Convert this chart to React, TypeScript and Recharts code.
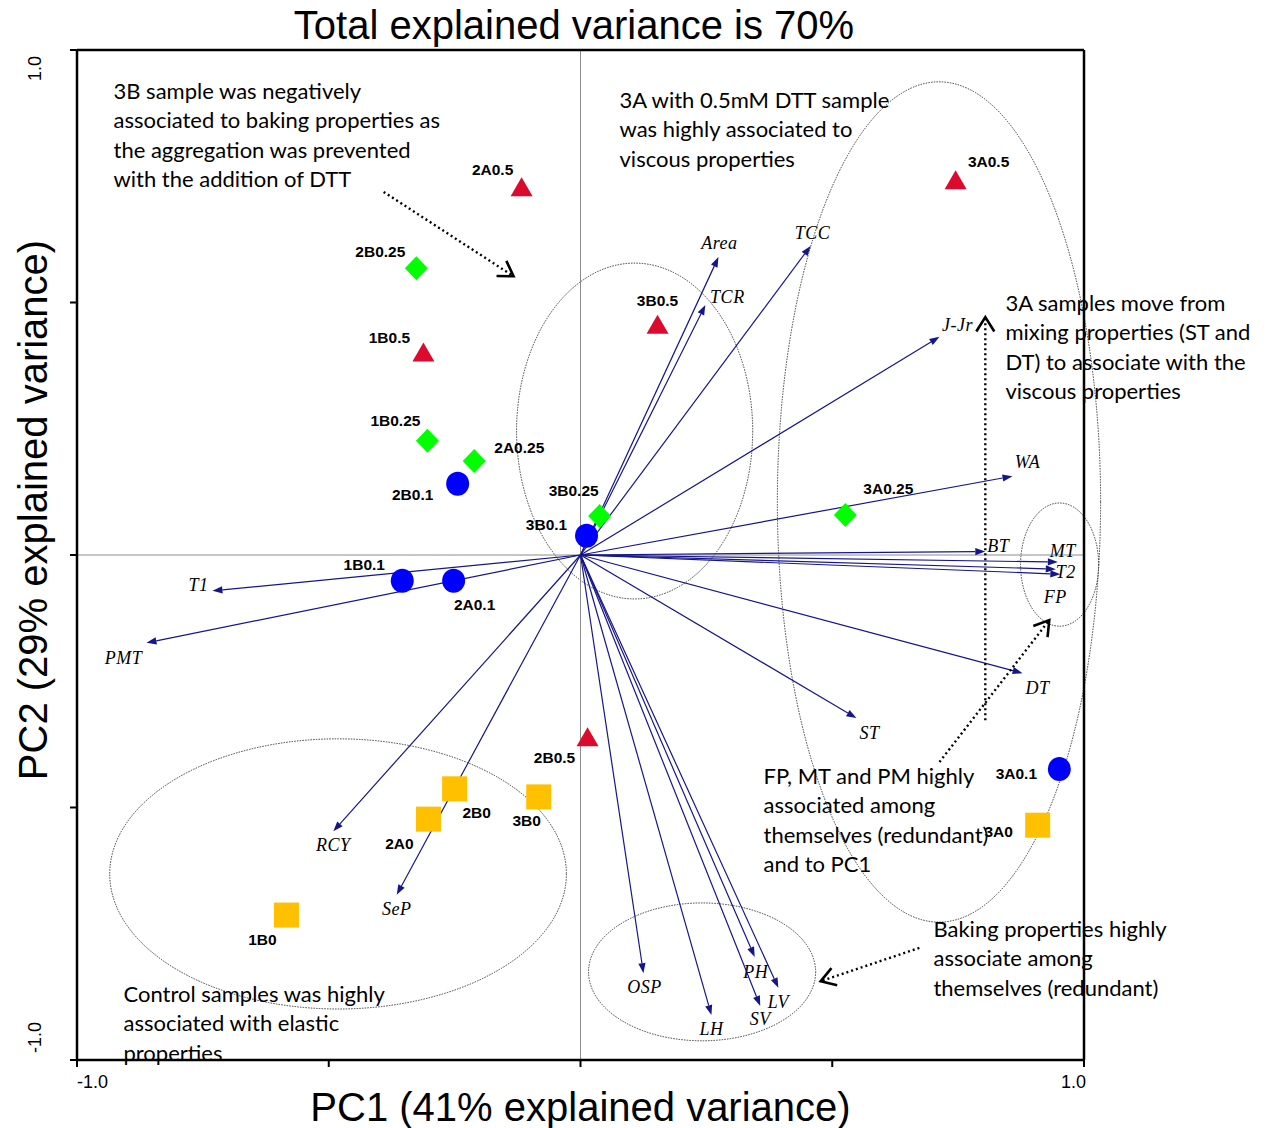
import React from "react";
import {
  ScatterChart,
  Scatter,
  XAxis,
  YAxis,
  ReferenceLine,
  ReferenceArea,
  ReferenceDot,
  Label,
} from "recharts";

// sample scores on PC1 / PC2, grouped by DTT level (marker shape)
const dtt05 = [
  { name: "2A0.5", pc1: -0.117, pc2: 0.729 },
  { name: "3A0.5", pc1: 0.745, pc2: 0.743 },
  { name: "3B0.5", pc1: 0.153, pc2: 0.457 },
  { name: "1B0.5", pc1: -0.312, pc2: 0.402 },
  { name: "2B0.5", pc1: 0.014, pc2: -0.36 },
];
const dtt025 = [
  { name: "2B0.25", pc1: -0.326, pc2: 0.568 },
  { name: "1B0.25", pc1: -0.304, pc2: 0.226 },
  { name: "2A0.25", pc1: -0.211, pc2: 0.186 },
  { name: "3B0.25", pc1: 0.038, pc2: 0.077 },
  { name: "3A0.25", pc1: 0.526, pc2: 0.079 },
];
const dtt01 = [
  { name: "2B0.1", pc1: -0.244, pc2: 0.141 },
  { name: "3B0.1", pc1: 0.012, pc2: 0.038 },
  { name: "1B0.1", pc1: -0.354, pc2: -0.051 },
  { name: "2A0.1", pc1: -0.252, pc2: -0.051 },
  { name: "3A0.1", pc1: 0.951, pc2: -0.424 },
];
const dtt0 = [
  { name: "2B0", pc1: -0.25, pc2: -0.463 },
  { name: "2A0", pc1: -0.302, pc2: -0.523 },
  { name: "3B0", pc1: -0.083, pc2: -0.479 },
  { name: "1B0", pc1: -0.584, pc2: -0.713 },
  { name: "3A0", pc1: 0.908, pc2: -0.535 },
];

// variable loadings
const loadings = [
  { name: "Area", pc1: 0.274, pc2: 0.59 },
  { name: "TCC", pc1: 0.457, pc2: 0.612 },
  { name: "TCR", pc1: 0.248, pc2: 0.495 },
  { name: "J-Jr", pc1: 0.713, pc2: 0.432 },
  { name: "WA", pc1: 0.858, pc2: 0.156 },
  { name: "BT", pc1: 0.804, pc2: 0.007 },
  { name: "MT", pc1: 0.948, pc2: -0.014 },
  { name: "T2", pc1: 0.944, pc2: -0.028 },
  { name: "FP", pc1: 0.953, pc2: -0.038 },
  { name: "DT", pc1: 0.878, pc2: -0.234 },
  { name: "ST", pc1: 0.548, pc2: -0.323 },
  { name: "T1", pc1: -0.731, pc2: -0.071 },
  { name: "PMT", pc1: -0.862, pc2: -0.174 },
  { name: "RCY", pc1: -0.491, pc2: -0.547 },
  { name: "SeP", pc1: -0.365, pc2: -0.673 },
  { name: "OSP", pc1: 0.125, pc2: -0.828 },
  { name: "LH", pc1: 0.26, pc2: -0.911 },
  { name: "PH", pc1: 0.346, pc2: -0.796 },
  { name: "SV", pc1: 0.357, pc2: -0.893 },
  { name: "LV", pc1: 0.393, pc2: -0.857 },
];

// grouping ellipses (bounding boxes, data units)
const groupEllipses = [
  { x1: -0.127, x2: 0.342, y1: -0.087, y2: 0.578 },
  { x1: 0.391, x2: 1.033, y1: -0.727, y2: 0.937 },
  { x1: 0.874, x2: 1.029, y1: -0.141, y2: 0.103 },
  { x1: -0.935, x2: -0.028, y1: -0.899, y2: -0.364 },
  { x1: 0.016, x2: 0.467, y1: -0.962, y2: -0.689 },
];

// dotted pointer arrows (from -> to)
const pointers = [
  { from: [-0.391, 0.719], to: [-0.133, 0.552] },
  { from: [0.804, -0.327], to: [0.804, 0.471] },
  { from: [0.713, -0.41], to: [0.931, -0.129] },
  { from: [0.673, -0.778], to: [0.477, -0.844] },
];

// annotation notes (anchor = left edge, first line)
const notes = [
  {
    pc1: -0.9275,
    pc2: 0.921,
    lines: [
      "3B sample was negatively",
      "associated to baking properties as",
      "the aggregation was prevented",
      "with the addition of DTT",
    ],
  },
  {
    pc1: 0.0775,
    pc2: 0.903,
    lines: ["3A with 0.5mM DTT sample", "was highly associated to", "viscous properties"],
  },
  {
    pc1: 0.844,
    pc2: 0.501,
    lines: [
      "3A samples move from",
      "mixing properties (ST and",
      "DT) to associate with the",
      "viscous properties",
    ],
  },
  {
    pc1: 0.3635,
    pc2: -0.4356,
    lines: ["FP, MT and PM highly", "associated among", "themselves (redundant)", "and to PC1"],
  },
  {
    pc1: 0.701,
    pc2: -0.7386,
    lines: ["Baking properties highly", "associate among", "themselves (redundant)"],
  },
  {
    pc1: -0.9077,
    pc2: -0.8673,
    lines: ["Control samples was highly", "associated with elastic", "properties"],
  },
];

const axisTicks = [-1, -0.5, 0, 0.5, 1];

// label placement (px offsets from the mark)
const sampleLabelOffset: Record<string, [number, number]> = {
  "2A0.5": [-29, -17], "3A0.5": [33, -18], "3B0.5": [0, -24], "1B0.5": [-34, -14], "2B0.5": [-33, 21],
  "2B0.25": [-36, -17], "1B0.25": [-32, -20], "2A0.25": [45, -14], "3B0.25": [-26, -26], "3A0.25": [43, -27],
  "2B0.1": [-45, 11], "3B0.1": [-40, -11], "1B0.1": [-38, -16], "2A0.1": [21, 24], "3A0.1": [-43, 4],
  "2B0": [22, 24], "2A0": [-29, 24], "3B0": [-12, 24], "1B0": [-24, 24], "3A0": [-39, 6],
};
const loadingLabelOffset: Record<string, [number, number]> = {
  Area: [1, -14], TCC: [2, -13], TCR: [22, -8], "J-Jr": [18, -12], WA: [15, -14],
  BT: [13, -5], MT: [5, -11], T2: [10, 3], FP: [-5, 23], DT: [15, 15], ST: [13, 15],
  T1: [-14, -6], PMT: [-23, 15], RCY: [0, 14], SeP: [0, 14], OSP: [1, 14], LH: [0, 14],
  PH: [1, 15], SV: [0, 13], LV: [0, 14],
};

const NAVY = "#16168a";
const SANS = "'Liberation Sans', Arial, sans-serif";

function SampleLabel({ cx, cy, name }: { cx: number; cy: number; name: string }) {
  const [dx, dy] = sampleLabelOffset[name] ?? [0, -20];
  return (
    <text x={cx + dx} y={cy + dy} textAnchor="middle" dominantBaseline="central"
      fontFamily={SANS} fontWeight="bold" fontSize={15.5} fill="#000">
      {name}
    </text>
  );
}

const triangle = (p: any) => (
  <g>
    <path d={`M${p.cx},${p.cy - 9.5}L${p.cx + 11},${p.cy + 9.5}L${p.cx - 11},${p.cy + 9.5}Z`} fill="#DC0A2D" />
    <SampleLabel cx={p.cx} cy={p.cy} name={p.payload.name} />
  </g>
);
const diamond = (p: any) => (
  <g>
    <path d={`M${p.cx},${p.cy - 12}L${p.cx + 11.5},${p.cy}L${p.cx},${p.cy + 12}L${p.cx - 11.5},${p.cy}Z`} fill="#00FF00" />
    <SampleLabel cx={p.cx} cy={p.cy} name={p.payload.name} />
  </g>
);
const circle = (p: any) => (
  <g>
    <ellipse cx={p.cx} cy={p.cy} rx={11.5} ry={12} fill="#0000FF" />
    <SampleLabel cx={p.cx} cy={p.cy} name={p.payload.name} />
  </g>
);
const square = (p: any) => (
  <g>
    <rect x={p.cx - 12.5} y={p.cy - 12.5} width={25} height={25} fill="#FFC000" />
    <SampleLabel cx={p.cx} cy={p.cy} name={p.payload.name} />
  </g>
);

const vectorShape = (name: string) => (p: any) => {
  const { x1, y1, x2, y2 } = p;
  const a = Math.atan2(y2 - y1, x2 - x1);
  const len = 10;
  const w = 3.6;
  const bx = x2 - len * Math.cos(a);
  const by = y2 - len * Math.sin(a);
  const px = -Math.sin(a) * w;
  const py = Math.cos(a) * w;
  const [dx, dy] = loadingLabelOffset[name] ?? [0, 0];
  return (
    <g>
      <line x1={x1} y1={y1} x2={bx} y2={by} stroke={NAVY} strokeWidth={1.2} />
      <path d={`M${x2},${y2}L${bx + px},${by + py}L${bx - px},${by - py}Z`} fill={NAVY} />
      <text x={x2 + dx} y={y2 + dy} textAnchor="middle" dominantBaseline="central"
        fontFamily="'Liberation Serif', 'Times New Roman', serif" fontStyle="italic" fontSize={18}
        letterSpacing={0.5} fill="#000">
        {name}
      </text>
    </g>
  );
};

const pointerShape = (p: any) => {
  const { x1, y1, x2, y2 } = p;
  const a = Math.atan2(y2 - y1, x2 - x1);
  const arm = 17;
  const half = (32 * Math.PI) / 180;
  const ax1 = x2 - arm * Math.cos(a - half);
  const ay1 = y2 - arm * Math.sin(a - half);
  const ax2 = x2 - arm * Math.cos(a + half);
  const ay2 = y2 - arm * Math.sin(a + half);
  return (
    <g>
      <line x1={x1} y1={y1} x2={x2} y2={y2} stroke="#000" strokeWidth={2.4} strokeDasharray="2 3" />
      <path d={`M${ax1},${ay1}L${x2},${y2}L${ax2},${ay2}`} fill="none" stroke="#000" strokeWidth={2.6} />
    </g>
  );
};

const ellipseShape = (p: any) => {
  const w = Math.abs(p.width);
  const h = Math.abs(p.height);
  const x = Math.min(p.x, p.x + p.width);
  const y = Math.min(p.y, p.y + p.height);
  return (
    <ellipse cx={x + w / 2} cy={y + h / 2} rx={w / 2} ry={h / 2} fill="none"
      stroke="#2a2a2a" strokeWidth={0.9} strokeDasharray="1.5 1.2" />
  );
};

const noteShape = (lines: string[]) => (p: any) => (
  <text fontFamily="Lato, 'Open Sans', sans-serif" fontSize={22} fill="#000" dominantBaseline="central">
    {lines.map((l, i) => (
      <tspan key={i} x={p.cx} y={p.cy + i * 29.4}>
        {l}
      </tspan>
    ))}
  </text>
);

const xTick = (p: any) => {
  const v = p.payload.value;
  if (Math.abs(v) !== 1) return <g />;
  return (
    <text x={v < 0 ? p.x : p.x + 2} y={p.y + 13} textAnchor={v < 0 ? "start" : "end"}
      dominantBaseline="central" fontFamily={SANS} fontSize={18} fill="#000">
      {v.toFixed(1)}
    </text>
  );
};

const yTick = (p: any) => {
  const v = p.payload.value;
  if (Math.abs(v) !== 1) return <g />;
  const x = p.x - 33;
  const y = v > 0 ? p.y + 6 : p.y - 7;
  return (
    <text x={x} y={y} transform={`rotate(-90, ${x}, ${y})`} textAnchor={v > 0 ? "end" : "start"}
      dominantBaseline="central" fontFamily={SANS} fontSize={18} fill="#000">
      {v.toFixed(1)}
    </text>
  );
};

export default function App() {
  return (
    <div style={{ position: "absolute", left: 0, top: 0, width: 1274, height: 1128 }}>
      <div
        style={{
          position: "absolute", left: 0, width: 1148, top: 0, textAlign: "center",
          fontFamily: SANS, fontSize: 40, lineHeight: "50px", color: "#000",
        }}
      >
        Total explained variance is 70%
      </div>
      <ScatterChart width={1274} height={1128} margin={{ top: 50, right: 190, bottom: 0, left: 0 }}>
        <XAxis type="number" dataKey="pc1" domain={[-1, 1]} ticks={axisTicks} allowDataOverflow
          axisLine={{ stroke: "#000", strokeWidth: 2.5 }} tickLine={{ stroke: "#000", strokeWidth: 2 }}
          tickSize={7} height={68} tick={xTick}>
          <Label
            content={(props: any) => {
              const vb = props.viewBox;
              return (
                <text x={vb.x + vb.width / 2} y={vb.y + 47} textAnchor="middle" dominantBaseline="central"
                  fontFamily={SANS} fontSize={40} fill="#000">
                  PC1 (41% explained variance)
                </text>
              );
            }}
          />
        </XAxis>
        <YAxis type="number" dataKey="pc2" domain={[-1, 1]} ticks={axisTicks} allowDataOverflow
          axisLine={{ stroke: "#000", strokeWidth: 2.5 }} tickLine={{ stroke: "#000", strokeWidth: 2 }}
          tickSize={7} width={77} tick={yTick}>
          <Label
            content={(props: any) => {
              const vb = props.viewBox;
              const cx = 33;
              const cy = vb.y + vb.height / 2 - 45;
              return (
                <text x={cx} y={cy} transform={`rotate(-90, ${cx}, ${cy})`} textAnchor="middle"
                  dominantBaseline="central" fontFamily={SANS} fontSize={40} fill="#000">
                  PC2 (29% explained variance)
                </text>
              );
            }}
          />
        </YAxis>

        <ReferenceLine x={0} stroke="#8c8c8c" strokeWidth={1} />
        <ReferenceLine y={0} stroke="#8c8c8c" strokeWidth={1} />
        <ReferenceLine y={1} stroke="#000" strokeWidth={2.5} />
        <ReferenceLine x={1} stroke="#000" strokeWidth={2.5} />

        {groupEllipses.map((e, i) => (
          <ReferenceArea key={`e${i}`} x1={e.x1} x2={e.x2} y1={e.y1} y2={e.y2} ifOverflow="visible" shape={ellipseShape} />
        ))}

        {loadings.map((l) => (
          <ReferenceLine key={l.name} segment={[{ x: 0, y: 0 }, { x: l.pc1, y: l.pc2 }]}
            ifOverflow="visible" shape={vectorShape(l.name)} />
        ))}

        {pointers.map((a, i) => (
          <ReferenceLine key={`p${i}`} segment={[{ x: a.from[0], y: a.from[1] }, { x: a.to[0], y: a.to[1] }]}
            ifOverflow="visible" shape={pointerShape} />
        ))}

        <Scatter data={dtt05} shape={triangle} isAnimationActive={false} />
        <Scatter data={dtt025} shape={diamond} isAnimationActive={false} />
        <Scatter data={dtt01} shape={circle} isAnimationActive={false} />
        <Scatter data={dtt0} shape={square} isAnimationActive={false} />

        {notes.map((n, i) => (
          <ReferenceDot key={`n${i}`} x={n.pc1} y={n.pc2} ifOverflow="visible" shape={noteShape(n.lines)} />
        ))}
      </ScatterChart>
    </div>
  );
}
